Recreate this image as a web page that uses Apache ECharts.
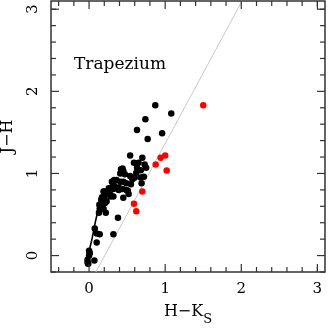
<!DOCTYPE html>
<html>
<head>
<meta charset="utf-8">
<script src="https://cdn.jsdelivr.net/npm/echarts@6/dist/echarts.min.js"></script>
<style>html,body{margin:0;padding:0;background:#fff}#c{width:328px;height:328px}</style>
</head>
<body>
<div id="c"></div>
<script>
// ---- data ----
const blackStars = [
  [0.87,1.83],[1.08,1.73],[0.74,1.66],[0.63,1.53],[0.96,1.49],[0.77,1.42],
  [0.54,1.22],[0.70,1.19],[0.59,1.13],[0.65,1.13],[0.73,1.11],[0.75,1.07],[0.68,1.04],
  [0.42,1.05],[0.45,1.03],[0.41,1.00],[0.47,0.99],[0.54,0.97],[0.62,1.01],[0.60,0.95],
  [0.33,0.92],[0.72,0.96],[0.63,1.07],[0.57,0.93],[0.68,0.95],[0.44,1.06],[0.43,1.02],
  [0.30,0.90],[0.36,0.92],[0.41,0.90],[0.45,0.90],[0.69,0.88],[0.49,0.88],[0.55,0.87],
  [0.33,0.85],[0.39,0.83],[0.31,0.84],[0.28,0.82],[0.26,0.82],[0.44,0.81],[0.49,0.80],
  [0.39,0.80],[0.32,0.81],[0.25,0.79],[0.51,0.79],
  [0.52,0.75],[0.20,0.78],[0.19,0.78],[0.245,0.76],[0.17,0.71],[0.28,0.72],[0.28,0.74],
  [0.32,0.72],[0.45,0.705],[0.20,0.72],[0.16,0.68],[0.23,0.66],[0.21,0.64],[0.16,0.63],
  [0.135,0.62],[0.19,0.57],[0.14,0.57],[0.13,0.52],[0.22,0.52],[0.38,0.46],
  [0.075,0.33],[0.10,0.27],[0.14,0.26],[0.32,0.26],[0.10,0.16],[0.0,0.06],[0.0,0.0],
  [0.01,0.03],[-0.02,-0.05],[-0.01,-0.10],[0.07,-0.06],[-0.02,-0.085]
];
const redStars = [
  [1.50,1.83],[1.00,1.22],[0.94,1.19],[0.875,1.11],[1.02,1.035],[0.70,0.78],[0.59,0.63],[0.62,0.54]
];
const locusCurve = [
  [-0.04,-0.13],[0.0,0.05],[0.04,0.21],[0.07,0.35],[0.10,0.48],[0.13,0.58],[0.16,0.65],[0.19,0.69]
];
const reddeningLine = [[0.09,-0.2],[2.01,3.1]];
const xMajor = [0,1,2,3];
const yMajor = [0,1,2,3];
const xMinor = [-0.4,-0.2,0.2,0.4,0.6,0.8,1.2,1.4,1.6,1.8,2.2,2.4,2.6,2.8,3.0];
const yMinor = [-0.2,0.2,0.4,0.6,0.8,1.2,1.4,1.6,1.8,2.2,2.4,2.6,2.8,3.0];
const xRange = [-0.5,3.1];
const yRange = [-0.2,3.1];
const labelText = 'Trapezium';

// ---- chart ----
const FONT = 'DejaVu Serif';
const W = 328, H = 328;
const G = {left:51, right:3, top:1, bottom:56};
const MAJOR_LEN = 8, MINOR_LEN = 5;
// pixel -> data-unit factors, used only for tick lengths
const dxPerPx = (xRange[1]-xRange[0]) / (W - G.left - G.right);
const dyPerPx = (yRange[1]-yRange[0]) / (H - G.top - G.bottom);

// tick segments (data coordinates), drawn as small line series
const tickSegs = [];
function addX(v, len){
  tickSegs.push([[v,yRange[0]],[v,yRange[0]+len*dyPerPx]]);
  tickSegs.push([[v,yRange[1]],[v,yRange[1]-len*dyPerPx]]);
}
function addY(v, len){
  tickSegs.push([[xRange[0],v],[xRange[0]+len*dxPerPx,v]]);
  tickSegs.push([[xRange[1],v],[xRange[1]-len*dxPerPx,v]]);
}
xMajor.forEach(v=>addX(v, MAJOR_LEN));
xMinor.forEach(v=>addX(v, MINOR_LEN));
yMajor.forEach(v=>addY(v, MAJOR_LEN));
yMinor.forEach(v=>addY(v, MINOR_LEN));

const tickSeries = tickSegs.map(seg => ({
  type:'line', data:seg, showSymbol:false, symbol:'none', silent:true,
  lineStyle:{color:'#333', width:1.2}, z:6, clip:false
}));

const chart = echarts.init(document.getElementById('c'), null, {renderer:'canvas'});
chart.setOption({
  animation:false,
  backgroundColor:'#fff',
  grid:Object.assign({containLabel:false, outerBoundsMode:'none',
        show:true, borderColor:'#333', borderWidth:1.5, backgroundColor:'transparent'}, G),
  xAxis:{type:'value', position:'bottom', min:xRange[0], max:xRange[1],
     axisLine:{show:false}, axisTick:{show:false}, splitLine:{show:false},
     axisLabel:{show:true, customValues:xMajor, margin:10, fontFamily:FONT, fontSize:15, color:'#000'},
     name:'{a|H\u2212K}{b|S}', nameLocation:'middle', nameGap:26,
     nameTextStyle:{fontFamily:FONT, fontSize:16, color:'#000',
       rich:{a:{fontFamily:FONT,fontSize:16,color:'#000',lineHeight:28},
             b:{fontFamily:FONT,fontSize:13,color:'#000',lineHeight:16,verticalAlign:'bottom'}}}},
  yAxis:{type:'value', position:'left', min:yRange[0], max:yRange[1],
     axisLine:{show:false}, axisTick:{show:false}, splitLine:{show:false},
     axisLabel:{show:true, customValues:yMajor, rotate:90, margin:10, fontFamily:FONT, fontSize:15, color:'#000'},
     name:'J\u2212H', nameLocation:'middle', nameGap:35, nameRotate:90,
     nameTextStyle:{fontFamily:FONT, fontSize:16, color:'#000'}},
  graphic:[{type:'text', left:74, top:56, style:{text:labelText, font:'17px "DejaVu Serif"', fill:'#000'}}],
  series:[
    {type:'line', data:reddeningLine, showSymbol:false, symbol:'none', lineStyle:{color:'#c8c8c8', width:1}, z:1},
    {type:'line', data:locusCurve, smooth:true, showSymbol:false, symbol:'none', lineStyle:{color:'#000', width:1.6}, z:2},
    {type:'scatter', data:blackStars, symbolSize:6.5, itemStyle:{color:'#000', opacity:1}, z:3},
    {type:'scatter', data:redStars, symbolSize:6.5, itemStyle:{color:'#ff0000', opacity:1}, z:4}
  ].concat(tickSeries)
});
</script>
</body>
</html>
